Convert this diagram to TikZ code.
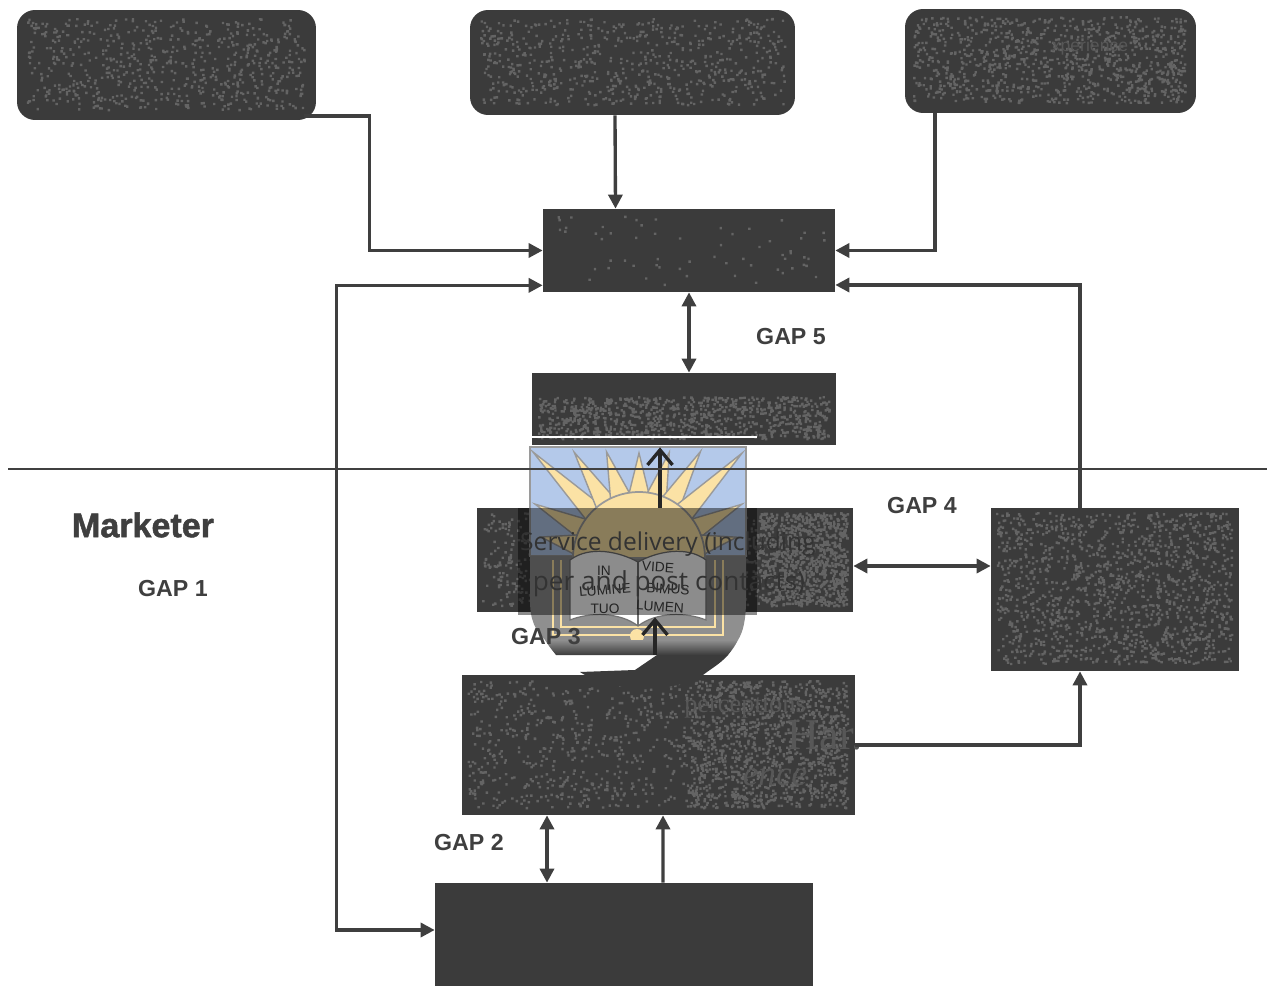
\documentclass[tikz,border=0pt]{standalone}
\usepackage{fontspec}
\setmainfont{Liberation Sans}
\newfontfamily\wmfont{Open Sans}
\newfontfamily\hartfont{Liberation Serif}
\newfontfamily\heavyfont[FakeBold=1.4]{Liberation Sans Bold}
\usetikzlibrary{arrows.meta, calc}

\definecolor{boxdark}{HTML}{3B3B3B}
\definecolor{speckgrey}{HTML}{646464}
\definecolor{linegrey}{HTML}{3F3F3F}
\definecolor{skyblue}{HTML}{B4C9EA}
\definecolor{sunyellow}{HTML}{FBE2A5}
\definecolor{shieldgrey}{HTML}{8F8F8F}
\definecolor{raygrey}{HTML}{9A9A9A}

% random light grains inside x1,y1,x2,y2, all on one path
\newcommand{\speckle}[5]{%
    \fill[speckgrey] \foreach \k [evaluate=\k as \xpos using {#1+rnd*(#3-#1-3)},
        evaluate=\k as \ypos using {#2+rnd*(#4-#2+3)}] in {1,...,#5} {
        (\xpos, \ypos) rectangle ++(2.4, -2.4)
    };
}

\begin{document}
\begin{tikzpicture}[
    x=0.02cm, y=0.02cm,
    darkbox/.style={draw=none, fill=boxdark, inner sep=0pt},
    softbox/.style={darkbox, rounded corners=0.36cm},
    arrow/.style={-{Triangle[length=2.8mm, width=2.8mm]}, line width=1.9pt, linegrey},
    twoway/.style={{Triangle[length=2.8mm, width=2.8mm]}-{Triangle[length=2.8mm, width=2.8mm]}, line width=1.9pt, linegrey},
    barb/.style={-{Straight Barb[length=3mm, width=5mm]}, line width=1.9pt, black!85},
    gaplabel/.style={font=\fontsize{13.2}{15}\selectfont\bfseries, text=linegrey, inner sep=0pt},
    mottotext/.style={font=\fontsize{7.8}{9}\selectfont, text=black!75, inner sep=0pt},
    hidden/.style={text=black!66, inner sep=0pt}
]
\useasboundingbox (0, 0) rectangle (1275, -986);
\pgfmathsetseed{4711}

% ============ TOP ROW ============
\node[softbox, minimum width=5.98cm, minimum height=2.2cm] (boxA) at (166.5, -65) {};
\node[softbox, minimum width=6.5cm, minimum height=2.1cm] (boxB) at (632.5, -62.5) {};
\node[softbox, minimum width=5.82cm, minimum height=2.08cm] (boxC) at (1050.5, -61) {};
\speckle{26}{-18}{307}{-112}{650}
\speckle{478}{-18}{787}{-107}{650}
\speckle{913}{-16}{1188}{-105}{1000}
\node[hidden, font=\fontsize{10}{12}\selectfont] (hiddenC) at (1090, -47) {xperience};

% ============ MIDDLE BOXES ============
\node[darkbox, minimum width=5.84cm, minimum height=1.66cm] (boxD) at (689, -250.5) {};
\node[darkbox, minimum width=6.08cm, minimum height=1.44cm] (boxE) at (684, -409) {};
\node[darkbox, minimum width=7.52cm, minimum height=2.08cm] (boxF) at (665, -560) {};
\node[darkbox, minimum width=7.86cm, minimum height=2.8cm] (boxG) at (658.5, -745) {};
\node[darkbox, minimum width=7.56cm, minimum height=2.06cm] (boxH) at (624, -934.5) {};
\node[darkbox, minimum width=4.96cm, minimum height=3.26cm] (boxI) at (1115, -589.5) {};
\speckle{550}{-215}{830}{-287}{60}
\speckle{537}{-396}{832}{-441}{900}
\speckle{482}{-512}{848}{-608}{1000}
\speckle{757}{-512}{850}{-608}{800}
\speckle{467}{-680}{850}{-810}{1000}
\speckle{690}{-680}{850}{-810}{900}
\speckle{996}{-512}{1234}{-666}{1400}

% Hidden words on boxG
\node[hidden, font=\hartfont\fontsize{15}{17}\selectfont] (hiddenG1) at (745, -707) {perceptions};
\node[hidden, font=\hartfont\fontsize{25}{27}\selectfont] (hiddenG2) at (825, -735) {Har.};
\node[hidden, font=\hartfont\itshape\fontsize{20}{22}\selectfont] (hiddenG3) at (775, -777) {ence};

% ============ CONNECTORS ============
\draw[arrow] ($(boxA.east)+(-12,-51)$) -- ++(65, 0) |- (boxD.west);
\draw[arrow] ($(boxB.south)+(-17.5,0)$) -- ($(boxD.north)+(-73.5,0)$);
\draw[arrow] ($(boxC.south)+(-115.5,0)$) |- (boxD.east);
\draw[twoway] ($(boxD.south west)+(0,7)$) -- ++(-206, 0) |- ($(boxH.west)+(0,4.5)$);
\draw[arrow] ($(boxI.north)+(-35,0)$) |- ($(boxD.east)+(0,-34.5)$);
\draw[twoway] (boxD.south) -- ($(boxE.north)+(5,0)$);
\draw[twoway] ($(boxF.east)+(0,-6)$) -- ($(boxI.west)+(0,23.5)$);
\draw[arrow] (boxG.east) -| ($(boxI.south)+(-35,0)$);
\draw[twoway] ($(boxG.south)+(-111.5,0)$) -- ($(boxH.north)+(-77,0)$);
\draw[arrow] ($(boxH.north)+(39,0)$) -- ($(boxG.south)+(4.5,0)$);

% Divider
\coordinate (ruleL) at (8, -469);
\coordinate (ruleR) at (1267, -469);

% ============ CREST ============
\fill[white] (530, -446) rectangle (757, -508);
\draw[white, line width=0.6pt] (530, -437) -- (757, -437);
\fill[skyblue] (530, -447) rectangle (746, -556);
\draw[raygrey, line width=0.8pt] (530, -447) rectangle (746, -556);
\fill[shieldgrey] (530, -556) -- (746, -556) -- (746, -600)
    .. controls (746, -620) and (743, -632) .. (738, -640)
    -- (545, -640) .. controls (535, -630) and (530, -620) .. (530, -600) -- cycle;
\coordinate (sunC) at (639, -558);
% rays
\foreach \a/\r in {135/150, 121.5/124, 107/111, 90/105, 74/110, 60/123, 45.5/147, 27.6/116, 152.6/117, 12/100, 167.9/100} {
    \filldraw[fill=sunyellow, draw=raygrey, line width=0.8pt]
        ($(sunC)+(\a:\r)$) -- ($(sunC)+(\a+10:62)$) -- ($(sunC)+(\a-10:62)$) -- cycle;
}
\filldraw[fill=sunyellow, draw=raygrey, line width=1pt] (573, -558) arc (180:0:66) -- cycle;
% book
\draw[sunyellow, line width=1.6pt] (553, -560) -- (553, -635) -- (723, -635) -- (723, -560);
\draw[sunyellow, line width=1.6pt] (561, -560) -- (561, -627) -- (715, -627) -- (715, -560);
\fill[shieldgrey] (566, -560) rectangle (710, -623);
\filldraw[fill=white, draw=black!55, line width=0.7pt] (570, -560)
    .. controls (590, -545) and (620, -552) .. (638, -562)
    .. controls (656, -552) and (686, -545) .. (706, -560)
    -- (706, -620) .. controls (686, -612) and (656, -612) .. (638, -626)
    .. controls (620, -612) and (590, -612) .. (570, -620) -- cycle;
\draw[black!55, line width=0.7pt] (638, -562) -- (638, -626);
\fill[sunyellow] (637, -636) circle (7);
\node[mottotext] (mottoA) at (604, -571) {IN};
\node[mottotext, rotate=5] (mottoB) at (605, -590) {LUMINE};
\node[mottotext] (mottoC) at (605, -609) {TUO};
\node[mottotext, rotate=-4] (mottoD) at (658, -567) {VIDE};
\node[mottotext, rotate=-4] (mottoE) at (668, -589) {BIMUS};
\node[mottotext, rotate=-4] (mottoF) at (660, -607) {LUMEN};

% Crest foot
\shade[top color=shieldgrey, bottom color=boxdark] (545, -640) -- (738, -640)
    .. controls (735, -646) and (732, -650) .. (728, -655) -- (556, -655)
    .. controls (552, -650) and (548, -645) .. (545, -640) -- cycle;
\fill[boxdark] (580, -672) -- (635, -670) -- (657, -655) -- (728, -655)
    .. controls (720, -664) and (712, -668) .. (703, -675)
    .. controls (670, -695) and (610, -692) .. (580, -672) -- cycle;
% darkened band across boxF
\fill[black, opacity=0.45] (518, -508) rectangle (757, -615);

% ============ ARROWS OVER THE CREST ============
\draw[barb] ($(boxF.north)+(-5,0)$) -- ($(boxE.south)+(-24,-2)$);
\draw[barb] ($(boxG.north)+(-3.5,20)$) -- ($(boxF.south)+(-10,-5)$);
\draw[line width=0.9pt, black!75] (ruleL) -- (ruleR);

% ============ TEXT ============
\node[font=\wmfont\fontsize{14}{16}\selectfont, text=black!80, inner sep=0pt] (serviceA) at (668, -544) {Service delivery (including};
\node[font=\wmfont\fontsize{14.9}{16}\selectfont, text=black!80, inner sep=0pt] (serviceB) at (669, -584) {per and post contacts)};

\node[font=\heavyfont\fontsize{19.4}{24}\selectfont, text=linegrey, inner sep=0pt] (marketer) at (143, -525) {Marketer};
\node[gaplabel] (gapA) at (173, -589) {GAP 1};
\node[gaplabel] (gapB) at (469, -843) {GAP 2};
\node[gaplabel] (gapC) at (546, -637) {GAP 3};
\node[gaplabel] (gapD) at (922, -506) {GAP 4};
\node[gaplabel] (gapE) at (791, -337) {GAP 5};

\end{tikzpicture}
\end{document}
